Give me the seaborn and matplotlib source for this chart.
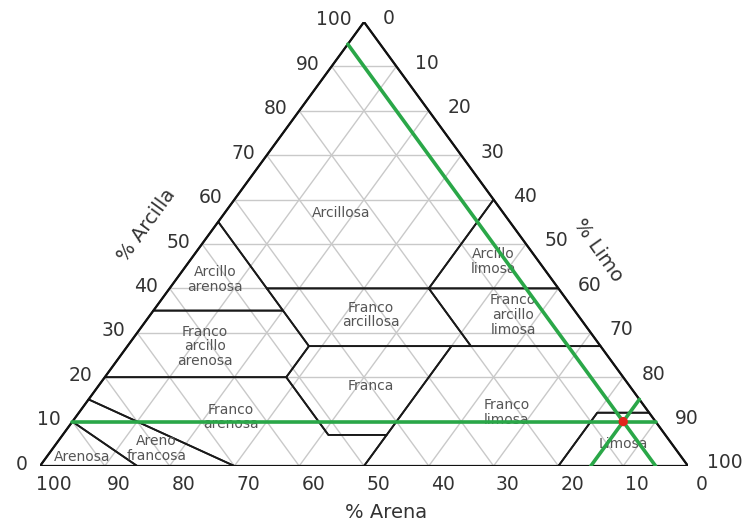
import numpy as np
import pandas as pd
import seaborn as sns
import matplotlib
matplotlib.use('Agg')
import matplotlib.pyplot as plt

# Tick values on every side of the triangle
TICKS = [0, 10, 20, 30, 40, 50, 60, 70, 80, 90, 100]

# Texture classes: vertices as (clay, silt) percentages
ARCILLOSA = [(100, 0), (55, 0), (40, 15), (40, 40), (60, 40)]
ARCILLO_ARENOSA = [(55, 0), (35, 0), (35, 20), (40, 15)]
ARCILLO_LIMOSA = [(60, 40), (40, 40), (40, 60)]
FRANCO_ARCILLOSA = [(40, 15), (27, 28), (27, 53), (40, 40)]
FRANCO_ARCILLO_LIMOSA = [(40, 40), (27, 53), (27, 73), (40, 60)]
FRANCO_ARCILLO_ARENOSA = [(35, 0), (20, 0), (20, 28), (27, 28), (35, 20)]
FRANCA = [(27, 28), (20, 28), (7, 41), (7, 50), (27, 50)]
FRANCO_LIMOSA = [(27, 50), (0, 50), (0, 80), (12, 80), (12, 88), (27, 73)]
LIMOSA = [(0, 80), (0, 100), (12, 88), (12, 80)]
FRANCO_ARENOSA = [(20, 0), (20, 28), (7, 41), (7, 50), (0, 50), (0, 30), (15, 0)]
ARENO_FRANCOSA = [(15, 0), (0, 30), (0, 15), (10, 0)]
ARENOSA = [(10, 0), (0, 15), (0, 0)]

CLASSES = [ARCILLOSA, ARCILLO_ARENOSA, ARCILLO_LIMOSA, FRANCO_ARCILLOSA,
           FRANCO_ARCILLO_LIMOSA, FRANCO_ARCILLO_ARENOSA, FRANCA, FRANCO_LIMOSA,
           LIMOSA, FRANCO_ARENOSA, ARENO_FRANCOSA, ARENOSA]

# Class names and where they are written (clay, silt)
CLASS_NAMES = ['Arcillosa', 'Arcillo\nlimosa', 'Arcillo\narenosa', 'Franco\narcillosa',
               'Franco\narcillo\nlimosa', 'Franco\narcillo\narenosa', 'Franca',
               'Franco\narenosa', 'Franco\nlimosa', 'Limosa', 'Areno\nfrancosa', 'Arenosa']
NAME_CLAY = [57, 46, 42, 34, 34, 27, 18, 11, 12, 5, 4, 2]
NAME_SILT = [18, 47, 6, 34, 56, 12, 42, 24, 66, 87.5, 16, 5.5]

# Sample point (clay, silt, sand)
SAMPLE_CLAY = 10
SAMPLE_SILT = 85
SAMPLE_SAND = 5


def to_xy(clay, silt):
    '''Convert a (clay, silt) composition to plot coordinates.'''
    clay = np.asarray(clay, dtype=float)
    silt = np.asarray(silt, dtype=float)
    return silt + clay / 2, clay


sns.set_theme(style='white')
plt.rcParams['font.family'] = ['DejaVu Sans']

fig = plt.figure(figsize=(7.48, 5.21), dpi=100)
ax = fig.add_axes([40 / 748, 55 / 521, 648 / 748, 444 / 521])

# Light grid lines every 10 %
grid_kw = dict(color='#c9c9c9', lw=1.0, zorder=1)
for v in TICKS[1:-1]:
    # constant clay
    x, y = to_xy([v, v], [0, 100 - v])
    ax.plot(x, y, **grid_kw)
    # constant silt
    x, y = to_xy([0, 100 - v], [v, v])
    ax.plot(x, y, **grid_kw)
    # constant sand
    x, y = to_xy([0, 100 - v], [100 - v, 0])
    ax.plot(x, y, **grid_kw)

# Class boundaries
for poly in CLASSES:
    c, s = zip(*(poly + [poly[0]]))
    x, y = to_xy(c, s)
    ax.plot(x, y, color='#1a1a1a', lw=1.3, zorder=2)

# Triangle outline
x, y = to_xy([0, 0, 100, 0], [0, 100, 0, 0])
ax.plot(x, y, color='#111111', lw=1.6, zorder=3)

# Class names
for name, c, s in zip(CLASS_NAMES, NAME_CLAY, NAME_SILT):
    x, y = to_xy(c, s)
    ax.text(x, y, name, ha='center', va='center', fontsize=10,
            color='#555555', linespacing=1.05, zorder=4)

# Guide lines through the sample
guides = pd.DataFrame({
    'clay': [SAMPLE_CLAY, SAMPLE_CLAY, 100 - SAMPLE_SAND, 0, 0, 100 - SAMPLE_SILT],
    'silt': [0, 100 - SAMPLE_CLAY, 0, 100 - SAMPLE_SAND, SAMPLE_SILT, SAMPLE_SILT],
    'line': ['clay', 'clay', 'sand', 'sand', 'silt', 'silt'],
})
guides['x'], guides['y'] = to_xy(guides['clay'], guides['silt'])
sns.lineplot(data=guides, x='x', y='y', units='line', estimator=None, sort=False,
             color='#2aa748', lw=2.6, ax=ax, zorder=5)

px, py = to_xy(SAMPLE_CLAY, SAMPLE_SILT)
sns.scatterplot(x=[float(px)], y=[float(py)], color='#e3251e', s=45,
                edgecolor='none', ax=ax, zorder=6)
ax.set_xlim(0, 100)
ax.set_ylim(0, 100)
ax.axis('off')

tick_kw = dict(textcoords='offset pixels', fontsize=13.5, color='#333333',
               annotation_clip=False)
for v in TICKS:
    # clay on the left side
    x, y = to_xy(v, 0)
    ax.annotate(str(v), (x, y), xytext=(-12, 2), ha='right', va='center', **tick_kw)
    # silt on the right side
    x, y = to_xy(100 - v, v)
    ax.annotate(str(v), (x, y), xytext=(19, 3), ha='left', va='center', **tick_kw)
    # sand on the bottom
    x, y = to_xy(0, 100 - v)
    ax.annotate(str(v), (x, y), xytext=(14, -19), ha='center', va='center', **tick_kw)

fig.text(386 / 748, 1 - 512 / 521, '% Arena', fontsize=14, color='#333333',
         ha='center', va='center')
fig.text(147 / 748, 1 - 225 / 521, '% Arcilla', fontsize=14, color='#333333',
         ha='center', va='center', rotation=54, rotation_mode='anchor')
fig.text(598 / 748, 1 - 250 / 521, '% Limo', fontsize=14, color='#333333',
         ha='center', va='center', rotation=-55, rotation_mode='anchor')

fig.savefig('out.png', dpi=100, facecolor='white')
